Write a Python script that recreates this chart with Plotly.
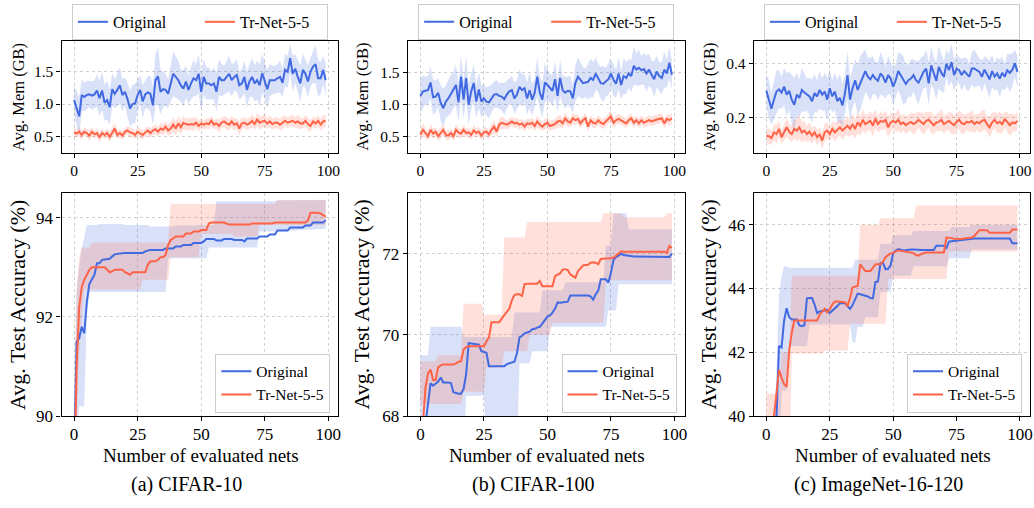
import plotly.graph_objects as go

# ---------------- data ----------------
steps = list(range(100))
x_ticks = [0, 25, 50, 75, 100]
series_names = ["Original", "Tr-Net-5-5"]
captions = ["(a) CIFAR-10", "(b) CIFAR-100", "(c) ImageNet-16-120"]

mem_a_orig = [1.06,0.93,0.81,1.14,1.11,1.14,1.15,1.13,1.15,1.21,
1.09,1.21,1.02,1.06,0.95,1.23,1.16,1.22,1.29,1.14,
1.19,1.08,0.93,1.00,1.01,1.14,1.22,1.04,1.15,1.18,
1.16,0.98,1.37,1.43,1.19,1.23,1.22,1.16,1.32,1.47,
1.42,1.37,1.29,1.24,1.35,1.22,1.32,1.40,1.37,1.47,
1.19,1.42,1.32,1.32,1.29,1.32,1.19,1.42,1.37,1.37,
1.42,1.47,1.37,1.42,1.45,1.29,1.32,1.42,1.22,1.35,
1.42,1.32,1.37,1.29,1.48,1.37,1.23,1.37,1.37,1.37,
1.40,1.42,1.33,1.53,1.50,1.71,1.47,1.55,1.42,1.32,
1.53,1.47,1.35,1.50,1.58,1.62,1.40,1.40,1.53,1.37]
mem_a_orig_sd = [0.22,0.25,0.30,0.25,0.22,0.22,0.20,0.22,0.22,0.25,
0.28,0.30,0.28,0.30,0.28,0.25,0.22,0.25,0.28,0.25,
0.22,0.25,0.28,0.30,0.30,0.25,0.22,0.25,0.22,0.25,
0.28,0.30,0.40,0.45,0.35,0.28,0.25,0.22,0.28,0.35,
0.32,0.30,0.25,0.28,0.25,0.22,0.25,0.28,0.25,0.30,
0.30,0.28,0.25,0.25,0.22,0.25,0.30,0.28,0.25,0.22,
0.25,0.28,0.25,0.22,0.25,0.22,0.22,0.25,0.28,0.25,
0.30,0.28,0.30,0.32,0.30,0.28,0.30,0.25,0.22,0.22,
0.22,0.25,0.22,0.25,0.25,0.22,0.28,0.22,0.25,0.28,
0.25,0.22,0.25,0.22,0.25,0.30,0.28,0.25,0.22,0.25]
mem_a_tr = [0.56,0.54,0.57,0.52,0.57,0.55,0.51,0.57,0.53,0.55,
0.48,0.55,0.52,0.55,0.49,0.56,0.62,0.52,0.55,0.51,
0.57,0.59,0.56,0.55,0.52,0.57,0.54,0.52,0.56,0.59,
0.55,0.59,0.61,0.57,0.62,0.60,0.65,0.59,0.62,0.68,
0.62,0.70,0.64,0.71,0.69,0.68,0.69,0.68,0.71,0.66,
0.70,0.68,0.70,0.69,0.74,0.68,0.70,0.66,0.71,0.73,
0.70,0.68,0.73,0.68,0.70,0.62,0.70,0.71,0.68,0.70,
0.74,0.69,0.76,0.71,0.73,0.74,0.70,0.73,0.69,0.71,
0.71,0.68,0.71,0.74,0.71,0.73,0.74,0.71,0.73,0.70,
0.70,0.74,0.69,0.66,0.73,0.70,0.74,0.68,0.73,0.74]
mem_a_tr_sd = [0.07,0.06,0.08,0.07,0.06,0.07,0.08,0.07,0.06,0.07,
0.08,0.07,0.06,0.07,0.08,0.07,0.09,0.07,0.06,0.07,
0.06,0.07,0.08,0.07,0.06,0.07,0.08,0.07,0.06,0.07,
0.08,0.07,0.08,0.07,0.09,0.08,0.09,0.08,0.10,0.11,
0.10,0.12,0.10,0.11,0.09,0.10,0.09,0.10,0.08,0.09,
0.08,0.07,0.08,0.09,0.08,0.07,0.08,0.10,0.08,0.09,
0.10,0.08,0.09,0.10,0.08,0.10,0.09,0.08,0.09,0.08,
0.10,0.09,0.10,0.11,0.09,0.10,0.08,0.09,0.08,0.09,
0.08,0.09,0.10,0.08,0.09,0.08,0.09,0.08,0.10,0.09,
0.08,0.09,0.10,0.09,0.08,0.09,0.08,0.09,0.10,0.09]

mem_b_orig = [1.13,1.20,1.21,1.22,1.34,1.11,1.12,1.18,1.02,0.94,
1.04,1.09,1.16,1.22,1.30,1.03,1.43,1.07,1.41,0.99,
1.20,1.33,1.04,1.23,1.04,1.09,1.04,1.03,1.09,1.15,
1.16,1.13,1.12,1.08,1.15,1.20,1.22,1.09,1.15,1.27,
1.22,1.25,1.09,1.22,1.07,1.18,1.43,1.18,1.07,1.34,
1.30,1.25,1.21,1.39,1.13,1.41,1.22,1.18,1.21,1.20,
1.09,1.33,1.43,1.38,1.33,1.34,1.35,1.41,1.38,1.48,
1.41,1.33,1.32,1.35,1.39,1.48,1.38,1.32,1.48,1.30,
1.44,1.41,1.48,1.44,1.60,1.54,1.57,1.53,1.55,1.48,
1.54,1.46,1.39,1.51,1.44,1.41,1.54,1.48,1.65,1.46]
mem_b_orig_sd = [0.28,0.25,0.22,0.22,0.25,0.28,0.25,0.22,0.28,0.30,
0.25,0.28,0.30,0.28,0.32,0.30,0.35,0.30,0.35,0.32,
0.28,0.30,0.25,0.28,0.25,0.22,0.22,0.25,0.22,0.20,
0.22,0.20,0.22,0.25,0.22,0.20,0.22,0.25,0.22,0.28,
0.25,0.22,0.25,0.28,0.25,0.22,0.30,0.25,0.28,0.30,
0.25,0.22,0.25,0.28,0.25,0.28,0.22,0.25,0.22,0.25,
0.22,0.28,0.30,0.28,0.25,0.22,0.28,0.30,0.28,0.25,
0.22,0.25,0.28,0.22,0.25,0.22,0.25,0.22,0.25,0.22,
0.28,0.25,0.22,0.25,0.30,0.25,0.28,0.22,0.25,0.28,
0.25,0.22,0.28,0.25,0.22,0.25,0.28,0.22,0.25,0.22]
mem_b_tr = [0.52,0.60,0.55,0.50,0.60,0.54,0.57,0.50,0.55,0.60,
0.52,0.51,0.55,0.50,0.60,0.56,0.54,0.60,0.55,0.56,
0.52,0.59,0.55,0.57,0.51,0.56,0.57,0.53,0.60,0.65,
0.57,0.68,0.71,0.70,0.68,0.70,0.73,0.70,0.71,0.68,
0.70,0.65,0.70,0.69,0.71,0.66,0.73,0.68,0.65,0.69,
0.71,0.66,0.68,0.69,0.73,0.74,0.70,0.78,0.73,0.71,
0.78,0.75,0.77,0.70,0.75,0.78,0.65,0.75,0.71,0.70,
0.75,0.71,0.69,0.73,0.77,0.81,0.71,0.75,0.77,0.75,
0.73,0.70,0.75,0.78,0.71,0.75,0.70,0.75,0.71,0.73,
0.75,0.73,0.75,0.76,0.77,0.78,0.70,0.77,0.75,0.78]
mem_b_tr_sd = [0.08,0.10,0.08,0.07,0.09,0.08,0.07,0.08,0.09,0.08,
0.07,0.08,0.07,0.08,0.09,0.08,0.07,0.08,0.07,0.08,
0.07,0.08,0.07,0.08,0.07,0.08,0.07,0.08,0.09,0.10,
0.08,0.09,0.10,0.08,0.07,0.08,0.07,0.08,0.07,0.08,
0.07,0.08,0.07,0.08,0.07,0.08,0.09,0.08,0.07,0.08,
0.09,0.08,0.07,0.08,0.09,0.10,0.08,0.09,0.08,0.07,
0.09,0.08,0.07,0.08,0.07,0.09,0.08,0.07,0.08,0.07,
0.08,0.07,0.08,0.07,0.08,0.09,0.08,0.07,0.08,0.07,
0.08,0.07,0.08,0.07,0.08,0.07,0.08,0.07,0.08,0.07,
0.08,0.07,0.08,0.07,0.08,0.07,0.08,0.07,0.09,0.08]

mem_c_orig = [0.300,0.270,0.233,0.267,0.297,0.305,0.293,0.315,0.285,0.300,
0.267,0.248,0.285,0.273,0.303,0.293,0.285,0.279,0.261,0.291,
0.279,0.303,0.285,0.297,0.267,0.309,0.279,0.297,0.261,0.273,
0.245,0.291,0.358,0.267,0.309,0.339,0.303,0.327,0.352,0.373,
0.352,0.342,0.358,0.345,0.337,0.364,0.352,0.330,0.358,0.345,
0.315,0.339,0.373,0.358,0.339,0.325,0.339,0.345,0.358,0.339,
0.330,0.352,0.370,0.382,0.327,0.394,0.364,0.337,0.388,0.366,
0.352,0.400,0.376,0.406,0.358,0.382,0.376,0.358,0.373,0.361,
0.352,0.382,0.382,0.376,0.370,0.352,0.378,0.361,0.342,0.373,
0.352,0.364,0.345,0.366,0.352,0.376,0.366,0.378,0.402,0.370]
mem_c_orig_sd = [0.06,0.07,0.06,0.07,0.08,0.07,0.06,0.07,0.08,0.07,
0.09,0.10,0.08,0.07,0.08,0.07,0.06,0.07,0.08,0.07,
0.06,0.07,0.06,0.07,0.08,0.07,0.06,0.07,0.08,0.09,
0.08,0.07,0.09,0.08,0.07,0.08,0.09,0.10,0.09,0.08,
0.07,0.08,0.07,0.06,0.07,0.08,0.07,0.06,0.07,0.06,
0.07,0.06,0.07,0.08,0.09,0.07,0.06,0.07,0.06,0.07,
0.08,0.07,0.06,0.07,0.08,0.07,0.06,0.07,0.08,0.07,
0.06,0.05,0.06,0.07,0.06,0.05,0.05,0.06,0.05,0.06,
0.05,0.06,0.07,0.06,0.05,0.06,0.05,0.06,0.07,0.06,
0.05,0.06,0.07,0.06,0.05,0.06,0.07,0.06,0.05,0.06]
mem_c_tr = [0.133,0.131,0.124,0.145,0.139,0.158,0.127,0.145,0.164,0.148,
0.139,0.158,0.152,0.164,0.145,0.152,0.139,0.148,0.133,0.145,
0.127,0.139,0.115,0.145,0.152,0.139,0.158,0.145,0.155,0.164,
0.152,0.160,0.170,0.158,0.176,0.158,0.182,0.170,0.192,0.176,
0.182,0.188,0.170,0.196,0.176,0.188,0.184,0.192,0.164,0.182,
0.188,0.182,0.192,0.176,0.182,0.172,0.179,0.184,0.176,0.182,
0.192,0.184,0.176,0.188,0.192,0.182,0.172,0.182,0.184,0.192,
0.176,0.182,0.188,0.179,0.172,0.184,0.192,0.179,0.176,0.184,
0.182,0.188,0.176,0.184,0.179,0.188,0.192,0.176,0.164,0.182,
0.192,0.179,0.184,0.176,0.194,0.184,0.172,0.182,0.179,0.188]
mem_c_tr_sd = [0.025,0.03,0.025,0.03,0.035,0.03,0.025,0.03,0.035,0.03,
0.03,0.035,0.04,0.045,0.04,0.035,0.03,0.035,0.03,0.025,
0.03,0.025,0.03,0.035,0.03,0.025,0.03,0.035,0.03,0.03,
0.035,0.03,0.035,0.03,0.04,0.035,0.04,0.035,0.04,0.035,
0.03,0.035,0.04,0.035,0.03,0.035,0.03,0.035,0.04,0.035,
0.03,0.035,0.04,0.035,0.03,0.035,0.03,0.035,0.04,0.035,
0.03,0.035,0.04,0.035,0.03,0.04,0.035,0.03,0.035,0.04,
0.035,0.03,0.035,0.04,0.035,0.03,0.035,0.04,0.035,0.03,
0.035,0.04,0.035,0.03,0.035,0.04,0.035,0.03,0.04,0.035,
0.03,0.035,0.04,0.035,0.03,0.035,0.04,0.035,0.03,0.035]

acc_a_orig = [89.0,91.50,91.57,91.80,91.67,92.30,92.66,92.75,92.85,93.08,
93.08,93.15,93.16,93.16,93.17,93.22,93.26,93.27,93.27,93.28,
93.29,93.29,93.29,93.29,93.29,93.29,93.29,93.29,93.32,93.34,
93.35,93.35,93.35,93.35,93.35,93.35,93.38,93.38,93.38,93.38,
93.42,93.42,93.42,93.45,93.45,93.45,93.45,93.49,93.49,93.49,
93.49,93.52,93.57,93.57,93.57,93.57,93.54,93.54,93.54,93.57,
93.57,93.57,93.57,93.55,93.55,93.55,93.55,93.52,93.58,93.58,
93.58,93.58,93.58,93.62,93.62,93.62,93.62,93.66,93.66,93.66,
93.74,93.74,93.74,93.74,93.74,93.80,93.80,93.80,93.80,93.80,
93.80,93.84,93.84,93.84,93.90,93.90,93.90,93.90,93.90,93.95]
acc_a_orig_lo = [88.0,89.5,90.2,90.2,90.2,92.0,92.5,92.5,92.5,92.5,
92.5,92.5,92.5,92.5,92.5,92.5,92.5,92.5,92.5,92.5,
92.5,92.5,92.5,92.5,92.5,92.5,92.5,92.5,92.5,92.5,
92.5,92.5,92.5,92.5,92.5,92.5,92.5,93.18,93.18,93.18,
93.18,93.18,93.18,93.18,93.18,93.18,93.18,93.18,93.18,93.18,
93.18,93.18,93.18,93.40,93.40,93.40,93.40,93.40,93.40,93.40,
93.40,93.40,93.40,93.40,93.40,93.40,93.40,93.40,93.40,93.40,
93.40,93.40,93.40,93.72,93.72,93.72,93.72,93.72,93.72,93.72,
93.73,93.73,93.73,93.73,93.74,93.74,93.74,93.74,93.75,93.75,
93.75,93.75,93.76,93.76,93.76,93.76,93.77,93.77,93.77,93.78]
acc_a_orig_hi = [90.5,92.5,93.0,93.4,93.6,93.85,93.85,93.85,93.85,93.85,
93.87,93.87,93.87,93.87,93.87,93.87,93.87,93.87,93.87,93.87,
93.85,93.85,93.85,93.85,93.85,93.85,93.85,93.85,93.85,93.85,
93.82,93.82,93.82,93.82,93.82,93.82,93.82,93.82,93.82,93.82,
93.84,93.84,93.84,93.84,93.84,93.84,93.84,93.84,93.84,93.84,
93.85,93.85,93.85,93.85,93.85,93.85,94.33,94.33,94.33,94.33,
94.33,94.33,94.33,94.33,94.33,94.33,94.33,94.33,94.33,94.33,
94.33,94.33,94.33,94.33,94.33,94.33,94.33,94.33,94.33,94.33,
94.35,94.35,94.35,94.35,94.35,94.35,94.35,94.35,94.35,94.35,
94.36,94.36,94.36,94.36,94.36,94.36,94.36,94.36,94.36,94.36]
acc_a_tr = [88.5,91.0,92.2,92.6,92.75,92.85,92.95,93.0,93.0,93.0,
93.0,93.0,93.0,92.95,92.9,92.92,92.95,92.95,92.95,92.95,
92.9,92.88,92.85,92.9,92.9,92.9,92.9,92.9,92.9,93.05,
93.12,93.12,93.12,93.15,93.2,93.2,93.25,93.45,93.55,93.58,
93.62,93.62,93.62,93.62,93.68,93.68,93.68,93.72,93.72,93.72,
93.75,93.75,93.75,93.88,93.9,93.9,93.9,93.9,93.9,93.9,
93.88,93.86,93.86,93.86,93.86,93.86,93.86,93.86,93.86,93.86,
93.88,93.88,93.88,93.88,93.88,93.88,93.88,93.88,93.88,93.9,
93.9,93.9,93.9,93.9,93.9,93.9,93.9,93.9,93.9,93.9,
93.9,93.9,93.95,94.1,94.1,94.1,94.1,94.08,94.05,94.02]
acc_a_tr_lo = [87.0,89.8,91.3,92.0,92.55,92.55,92.55,92.55,92.55,92.55,
92.55,92.55,92.55,92.55,92.55,92.55,92.55,92.55,92.55,92.55,
92.55,92.55,92.55,92.55,92.55,92.55,92.55,92.75,92.75,92.75,
92.75,92.75,92.75,92.75,92.75,92.75,92.75,92.75,93.2,93.2,
93.2,93.2,93.2,93.2,93.2,93.2,93.2,93.2,93.2,93.2,
93.67,93.67,93.67,93.67,93.67,93.67,93.67,93.67,93.67,93.67,
93.67,93.67,93.67,93.62,93.62,93.62,93.62,93.62,93.62,93.62,
93.62,93.62,93.62,93.85,93.85,93.85,93.85,93.85,93.85,93.85,
93.85,93.85,93.85,93.85,93.85,93.85,93.85,93.85,93.85,93.85,
93.85,93.85,93.85,93.85,93.85,93.85,93.85,93.85,93.85,93.85]
acc_a_tr_hi = [90.0,92.6,93.2,93.4,93.4,93.4,93.4,93.5,93.5,93.5,
93.5,93.5,93.5,93.5,93.5,93.5,93.5,93.5,93.5,93.5,
93.5,93.5,93.5,93.5,93.5,93.5,93.5,93.5,93.5,93.5,
93.5,93.5,93.5,93.5,93.5,93.5,93.5,93.5,94.28,94.28,
94.28,94.28,94.28,94.28,94.28,94.28,94.28,94.28,94.28,94.28,
94.28,94.28,94.28,94.28,94.28,94.28,94.28,94.28,94.28,94.28,
94.28,94.28,94.28,94.28,94.28,94.28,94.28,94.28,94.28,94.28,
94.28,94.28,94.28,94.28,94.28,94.28,94.28,94.28,94.28,94.28,
94.35,94.35,94.35,94.35,94.35,94.35,94.35,94.35,94.35,94.35,
94.35,94.35,94.35,94.35,94.35,94.35,94.35,94.35,94.35,94.35]

acc_b_orig = [67.0,67.5,67.8,68.3,68.81,68.75,68.79,68.85,68.95,68.83,
68.83,68.83,68.82,68.59,68.57,68.55,68.55,68.67,69.03,69.80,
69.79,69.78,69.77,69.76,69.60,69.58,69.56,69.23,69.23,69.23,
69.23,69.23,69.23,69.23,69.28,69.30,69.32,69.34,69.55,69.94,
69.98,70.04,70.06,70.08,70.14,70.15,70.18,70.20,70.28,70.36,
70.45,70.48,70.55,70.65,70.80,70.79,70.80,70.81,70.82,70.97,
70.97,70.97,70.97,70.97,70.97,70.97,70.97,70.95,70.87,71.0,
71.09,71.37,71.37,71.37,71.29,71.53,71.85,71.92,71.95,72.0,
71.97,71.96,71.95,71.93,71.93,71.93,71.93,71.93,71.93,71.93,
71.93,71.93,71.93,71.93,71.93,71.93,71.93,71.93,71.92,72.0]
acc_b_orig_lo = [67.0,67.0,67.0,67.0,67.0,67.0,67.0,67.0,67.0,67.0,
67.0,67.0,67.0,67.0,67.0,67.0,67.0,67.0,68.5,68.5,
68.5,68.5,68.5,68.5,68.5,68.5,67.0,67.0,67.0,67.0,
67.0,67.0,67.0,67.0,67.0,67.0,67.0,67.0,67.0,69.3,
69.3,69.3,69.3,69.3,69.6,69.6,69.6,69.6,69.6,69.6,
69.6,70.2,70.2,70.2,70.2,70.2,70.2,70.2,70.2,70.2,
70.2,70.2,70.2,70.2,70.2,70.2,70.2,70.2,70.2,70.2,
70.2,70.2,70.2,70.2,70.6,70.6,70.6,70.6,71.25,71.25,
71.25,71.25,71.25,71.25,71.25,71.25,71.25,71.25,71.25,71.25,
71.25,71.25,71.25,71.25,71.25,71.25,71.25,71.25,71.25,71.25]
acc_b_orig_hi = [69.5,69.5,69.5,69.5,70.2,70.2,70.2,70.2,70.2,70.2,
70.2,70.2,70.2,70.2,70.2,70.2,70.2,69.95,69.95,69.95,
69.95,69.95,69.95,69.95,69.95,69.95,69.95,69.95,69.95,69.95,
69.95,69.95,69.95,69.95,69.95,69.95,69.95,70.55,70.55,70.55,
70.55,70.55,70.55,70.55,70.55,70.55,70.55,70.55,71.1,71.1,
71.1,71.1,71.1,71.1,71.1,71.1,71.1,71.3,71.3,71.3,
71.3,71.3,71.3,71.3,71.3,71.3,71.3,71.3,71.3,71.3,
71.3,71.3,71.3,72.2,72.2,72.2,73.0,73.0,73.0,73.0,
73.0,73.0,72.6,72.6,72.6,72.6,72.6,72.6,72.6,72.6,
72.6,72.6,72.6,72.6,72.6,72.6,72.6,72.6,72.6,72.6]
acc_b_tr = [67.2,67.8,68.7,69.05,69.15,68.89,68.89,69.2,69.25,69.27,
69.27,69.27,69.27,69.27,69.30,69.34,69.35,69.64,69.70,69.72,
69.72,69.72,69.72,69.72,69.72,69.72,69.84,69.94,70.31,70.31,
70.31,70.31,70.40,70.48,70.55,70.65,70.85,70.98,71.0,71.0,
70.96,71.25,71.26,71.26,71.26,71.26,71.26,71.33,71.2,71.2,
71.2,71.2,71.2,71.45,71.49,71.52,71.61,71.62,71.6,71.49,
71.45,71.41,71.57,71.65,71.71,71.72,71.73,71.78,71.79,71.78,
71.74,71.87,71.88,71.88,71.88,71.9,71.9,71.95,72.0,72.06,
72.05,72.05,72.05,72.05,72.05,72.05,72.05,72.05,72.05,72.05,
72.05,72.05,72.05,72.05,72.05,72.05,72.05,72.02,72.19,72.14]
acc_b_tr_lo = [68.3,68.3,68.3,68.3,68.3,68.3,68.3,68.3,68.3,68.3,
68.3,68.3,68.3,68.3,68.3,68.3,68.3,68.6,68.6,68.6,
68.6,68.6,68.6,68.6,68.6,68.6,69.2,69.2,69.2,69.2,
69.2,69.2,69.2,69.6,69.6,69.6,69.6,69.6,69.6,69.6,
69.6,69.6,69.6,70.0,70.0,70.0,70.0,70.0,70.0,70.0,
70.0,70.0,70.3,70.3,70.3,70.3,70.3,70.3,70.3,70.3,
70.3,70.3,70.3,70.3,70.3,70.3,70.3,70.3,70.3,70.3,
70.3,70.3,70.3,71.35,71.35,71.35,71.35,71.35,71.35,71.35,
71.35,71.35,71.35,71.35,71.35,71.35,71.35,71.35,71.35,71.35,
71.35,71.35,71.35,71.35,71.35,71.35,71.35,71.35,71.35,71.35]
acc_b_tr_hi = [69.35,69.35,69.35,69.35,69.35,69.35,69.35,69.5,69.5,69.5,
69.5,69.5,69.5,69.5,69.5,69.5,69.5,70.77,70.77,70.77,
70.77,70.77,70.77,70.77,70.77,70.5,70.5,70.5,70.5,70.5,
70.5,70.5,70.5,72.4,72.4,72.4,72.4,72.4,72.4,72.4,
72.4,72.4,72.78,72.78,72.78,72.78,72.78,72.78,72.78,72.78,
72.78,72.78,72.78,72.78,72.78,72.78,72.78,72.78,72.78,72.78,
72.78,72.78,72.78,72.78,72.78,72.78,72.78,72.78,72.78,72.78,
72.78,72.78,73.0,73.0,73.0,73.0,73.0,73.0,73.0,73.0,
72.9,72.9,72.9,72.9,72.9,72.9,72.9,72.9,72.9,72.9,
72.9,72.9,72.9,72.9,72.9,72.9,72.9,73.0,73.0,73.0]

acc_c_orig = [38.5,38.9,39.3,39.7,40.0,42.2,42.15,43.0,43.38,43.1,
43.03,43.03,43.03,42.85,42.82,42.85,43.69,43.70,43.70,43.5,
43.23,43.28,43.30,43.32,43.33,43.23,43.30,43.36,43.45,43.54,
43.54,43.54,43.45,43.36,43.48,43.65,43.84,43.82,43.80,43.78,
43.75,43.70,43.69,44.2,44.22,44.8,44.8,44.6,44.62,44.73,
45.11,45.18,45.24,45.22,45.19,45.2,45.22,45.22,45.22,45.21,
45.21,45.21,45.21,45.21,45.21,45.21,45.21,45.34,45.34,45.34,
45.34,45.27,45.47,45.48,45.49,45.5,45.52,45.53,45.55,45.56,
45.57,45.57,45.57,45.57,45.57,45.57,45.57,45.57,45.57,45.57,
45.57,45.57,45.57,45.57,45.57,45.57,45.57,45.42,45.42,45.42]
acc_c_orig_lo = [38.5,38.5,38.5,38.5,38.5,38.5,40.8,40.8,40.8,42.2,
42.2,42.2,42.2,42.2,42.2,42.2,42.2,42.87,42.87,42.87,
42.87,42.87,42.87,42.87,42.87,42.87,42.87,42.87,42.87,42.87,
42.87,42.87,42.87,42.87,42.3,42.3,42.8,42.8,42.8,43.1,
43.1,43.1,43.1,43.1,43.1,43.9,43.9,43.9,43.9,43.9,
44.4,44.4,44.4,44.4,44.4,44.4,44.4,44.4,44.7,44.7,
44.7,44.7,44.7,44.7,44.7,44.7,44.7,44.7,44.7,44.7,
44.7,44.7,44.95,44.95,44.95,44.95,44.95,44.95,44.95,44.95,
44.95,45.22,45.22,45.22,45.22,45.22,45.22,45.22,45.22,45.22,
45.22,45.22,45.22,45.22,45.22,45.22,45.22,45.22,45.22,45.22]
acc_c_orig_hi = [39.5,39.5,39.5,39.5,41.5,43.8,44.4,44.7,44.7,44.65,
44.65,44.65,44.65,44.65,44.65,44.65,44.65,44.65,44.65,44.65,
44.65,44.65,44.65,44.65,44.65,44.65,44.65,44.65,44.65,44.65,
44.65,44.65,44.65,44.65,44.65,44.9,44.9,44.9,44.9,44.9,
44.9,44.9,44.9,44.9,44.9,45.4,45.4,45.4,45.4,45.4,
45.67,45.67,45.67,45.67,45.67,45.67,45.67,45.67,45.8,45.8,
45.8,45.8,45.8,45.8,45.8,45.8,45.8,45.8,45.8,45.8,
45.8,45.8,45.8,45.93,45.93,45.93,45.93,45.93,45.93,45.93,
45.93,46.0,46.0,46.0,46.0,46.0,46.0,46.0,46.0,46.0,
46.0,46.0,46.0,46.0,46.0,46.0,46.0,46.0,46.0,46.0]
acc_c_tr = [37.5,38.5,39.4,40.0,40.7,41.45,41.2,41.0,40.92,42.06,
42.6,43.0,43.0,43.0,43.0,43.0,43.0,43.0,43.0,43.0,
43.0,43.18,43.28,43.36,43.25,43.35,43.50,43.59,43.59,43.59,
43.58,43.57,43.45,43.70,44.04,44.06,44.08,44.76,44.65,44.55,
44.55,44.55,44.65,44.76,44.76,44.76,44.85,44.98,45.05,45.1,
45.11,45.15,45.2,45.18,45.16,45.15,45.14,45.13,45.11,45.05,
45.03,45.08,45.11,45.13,45.13,45.13,45.13,45.13,45.13,45.13,
45.13,45.6,45.6,45.58,45.56,45.55,45.54,45.55,45.57,45.58,
45.59,45.6,45.65,45.75,45.83,45.83,45.83,45.83,45.75,45.75,
45.75,45.75,45.75,45.75,45.75,45.75,45.75,45.85,45.85,45.85]
acc_c_tr_lo = [38.0,38.0,38.0,38.0,38.0,38.0,38.0,38.0,38.0,38.0,
41.96,41.96,41.96,41.96,41.96,41.96,41.96,41.96,41.96,41.96,
41.96,41.96,41.96,42.06,42.06,42.06,42.06,42.06,42.06,42.06,
42.06,42.06,42.06,42.9,42.9,42.9,42.9,42.9,42.9,42.9,
42.9,42.9,42.9,42.9,42.9,42.9,42.9,42.9,44.3,44.3,
44.3,44.3,44.3,44.3,44.3,44.3,44.3,44.3,44.3,44.3,
44.3,44.3,44.3,44.3,44.3,44.3,44.3,44.3,44.3,44.3,
44.3,44.3,45.16,45.16,45.16,45.16,45.16,45.16,45.16,45.16,
45.16,45.16,45.16,45.16,45.16,45.16,45.16,45.16,45.16,45.16,
45.16,45.16,45.16,45.16,45.16,45.16,45.16,45.16,45.16,45.16]
acc_c_tr_hi = [40.7,40.7,40.7,40.7,40.7,40.7,42.0,42.0,42.0,42.0,
44.4,44.4,44.4,44.4,44.4,44.4,44.4,44.4,44.4,44.4,
44.4,44.4,44.4,44.4,44.4,44.4,44.4,44.4,44.4,44.4,
44.4,44.4,44.4,44.4,44.4,44.4,44.4,46.0,46.0,46.0,
46.0,46.0,46.0,46.0,46.0,46.2,46.2,46.2,46.2,46.2,
46.2,46.2,46.2,46.2,46.2,46.2,46.2,46.2,46.2,46.6,
46.6,46.6,46.6,46.6,46.6,46.6,46.6,46.6,46.6,46.6,
46.6,46.6,46.6,46.6,46.6,46.6,46.6,46.6,46.6,46.6,
46.6,46.6,46.6,46.6,46.6,46.6,46.6,46.6,46.6,46.6,
46.6,46.6,46.6,46.6,46.6,46.6,46.6,46.6,46.6,46.6]

mem_yticks = [[0.5, 1.0, 1.5], [0.5, 1.0, 1.5], [0.2, 0.4]]
mem_yranges = [[0.246, 1.98], [0.243, 1.99], [0.070, 0.485]]
acc_yticks = [[90, 92, 94], [68, 70, 72], [40, 42, 44, 46]]
acc_yranges = [[90, 94.5], [68, 73.5], [40, 47]]

# ---------------- styling ----------------
W, H = 1034, 508
FONT = "Liberation Serif, Times New Roman, serif"
BLUE = "#4169E1"
RED = "#FF6347"
BLUE_F = "rgba(65,105,225,0.20)"
RED_F = "rgba(255,99,71,0.20)"

col_px = [(61.7, 339.3), (409.0, 686.5), (756.0, 1033.0)]
row_px = [(41.7, 155.7), (196.7, 424.5)]


def fx(p):
    return p / W


def fy(p):
    return 1 - p / H


fig = go.Figure()

mem_data = [
    (mem_a_orig, mem_a_orig_sd, mem_a_tr, mem_a_tr_sd),
    (mem_b_orig, mem_b_orig_sd, mem_b_tr, mem_b_tr_sd),
    (mem_c_orig, mem_c_orig_sd, mem_c_tr, mem_c_tr_sd),
]
acc_data = [
    (acc_a_orig, acc_a_orig_lo, acc_a_orig_hi, acc_a_tr, acc_a_tr_lo, acc_a_tr_hi),
    (acc_b_orig, acc_b_orig_lo, acc_b_orig_hi, acc_b_tr, acc_b_tr_lo, acc_b_tr_hi),
    (acc_c_orig, acc_c_orig_lo, acc_c_orig_hi, acc_c_tr, acc_c_tr_lo, acc_c_tr_hi),
]


def add_band(lo, hi, color, k):
    fig.add_trace(go.Scatter(
        x=steps + steps[::-1], y=list(hi) + list(lo)[::-1],
        fill="toself", fillcolor=color, line=dict(width=0),
        mode="lines", hoverinfo="skip", showlegend=False,
        xaxis=f"x{k}", yaxis=f"y{k}"))


def add_line(vals, color, name, k, leg):
    fig.add_trace(go.Scatter(
        x=steps, y=vals, mode="lines", name=name,
        line=dict(color=color, width=2),
        xaxis=f"x{k}", yaxis=f"y{k}", legend=leg))


for c in range(3):
    k = c + 1
    leg = "legend" if c == 0 else f"legend{c + 1}"
    mo, mos, mt, mts = mem_data[c]
    add_band([m - s for m, s in zip(mo, mos)], [m + s for m, s in zip(mo, mos)], BLUE_F, k)
    add_band([m - s for m, s in zip(mt, mts)], [m + s for m, s in zip(mt, mts)], RED_F, k)
    add_line(mo, BLUE, series_names[0], k, leg)
    add_line(mt, RED, series_names[1], k, leg)

for c in range(3):
    k = c + 4
    leg = f"legend{c + 4}"
    ao, aol, aoh, at, atl, ath = acc_data[c]
    add_band(aol, aoh, BLUE_F, k)
    add_band(atl, ath, RED_F, k)
    add_line(ao, BLUE, series_names[0], k, leg)
    add_line(at, RED, series_names[1], k, leg)

layout = dict(
    width=W, height=H,
    margin=dict(l=0, r=0, t=0, b=0),
    paper_bgcolor="white", plot_bgcolor="white",
    font=dict(family=FONT, color="black", size=16),
)


def axis_common(tsize):
    return dict(showline=True, mirror=True, linecolor="black", linewidth=1.2,
                ticks="outside", ticklen=4, tickwidth=1.2, tickcolor="black",
                showgrid=True, gridcolor="#cfcfcf", gridwidth=0.8, griddash="dot",
                zeroline=False, tickfont=dict(family=FONT, size=tsize, color="black"))


for r in range(2):
    for c in range(3):
        k = r * 3 + c + 1
        tsize = 15.5 if r == 0 else 17
        xa = axis_common(tsize)
        xa.update(domain=[fx(col_px[c][0]), fx(col_px[c][1])], range=[-4.95, 103.95],
                  tickvals=x_ticks, anchor=f"y{k}")
        if r == 1:
            xa.update(ticklabelstandoff=-2)
        ya = axis_common(tsize)
        yt = mem_yticks[c] if r == 0 else acc_yticks[c]
        yr = mem_yranges[c] if r == 0 else acc_yranges[c]
        ya.update(domain=[fy(row_px[r][1]), fy(row_px[r][0])], range=yr,
                  tickvals=yt, anchor=f"x{k}")
        if r == 0:
            ya.update(tickformat=".1f")
        layout["xaxis" if k == 1 else f"xaxis{k}"] = xa
        layout["yaxis" if k == 1 else f"yaxis{k}"] = ya

# legends
for c in range(3):
    cx = (col_px[c][0] + col_px[c][1]) / 2
    name = "legend" if c == 0 else f"legend{c + 1}"
    layout[name] = dict(orientation="h", x=fx(cx), xanchor="center", y=fy(4), yanchor="top",
                        bordercolor="#cccccc", borderwidth=1, bgcolor="white",
                        font=dict(family=FONT, size=16), itemwidth=30,
                        entrywidth=82)
    layout[f"legend{c + 4}"] = dict(orientation="v", x=fx(col_px[c][1] - 8), xanchor="right",
                                    y=fy(421), yanchor="bottom",
                                    bordercolor="#cccccc", borderwidth=1, bgcolor="white",
                                    font=dict(family=FONT, size=15.5), tracegroupgap=0)

ann = []
ylab_x = [18.5, 364, 712]
for c in range(3):
    ann.append(dict(text="Avg. Mem (GB)", x=fx(ylab_x[c]), y=fy(98.7), xref="paper", yref="paper",
                    textangle=-90, showarrow=False, xanchor="center", yanchor="middle",
                    font=dict(family=FONT, size=16.5)))
    ann.append(dict(text="Avg. Test Accuracy (%)", x=fx(ylab_x[c] - 1), y=fy(310.6), xref="paper",
                    yref="paper", textangle=-90, showarrow=False, xanchor="center",
                    yanchor="middle", font=dict(family=FONT, size=22)))
    cx = (col_px[c][0] + col_px[c][1]) / 2
    ann.append(dict(text="Number of evaluated nets", x=fx(cx + 1), y=fy(465), xref="paper",
                    yref="paper", showarrow=False, xanchor="center", yanchor="middle",
                    font=dict(family=FONT, size=19)))
    ann.append(dict(text=captions[c], x=fx(cx - 13), y=fy(494), xref="paper", yref="paper",
                    showarrow=False, xanchor="center", yanchor="middle",
                    font=dict(family=FONT, size=20)))
layout["annotations"] = ann

fig.update_layout(**layout)
fig.write_html("out.html")
